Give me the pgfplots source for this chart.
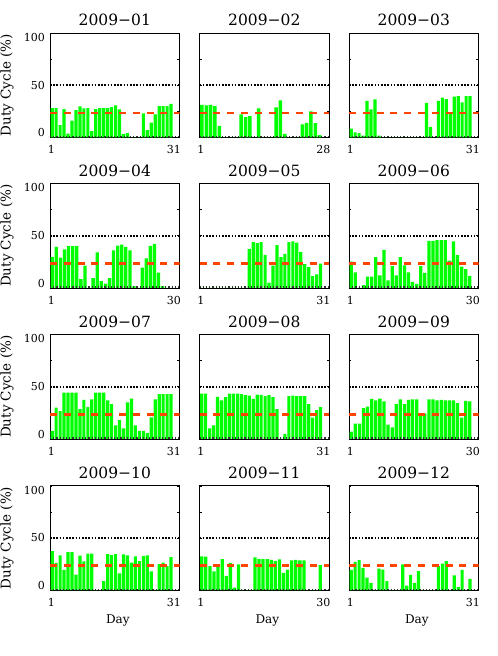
\documentclass[border=0pt]{standalone}
\usepackage{pgfplots}
\pgfplotsset{compat=1.18}
\usepackage{pgfplotstable}
\usepackage{fontspec}
\setmainfont{DejaVu Serif}

\definecolor{bargreen}{RGB}{0,255,0}
\definecolor{meanred}{RGB}{255,69,0}

% daily duty cycle (%), one value per day
\pgfplotstableread[row sep=\\]{dc\\28\\28\\11.6\\27\\3.5\\16\\26\\29.6\\27.7\\28\\6\\27\\28\\28\\28\\29\\30.5\\26.7\\3.2\\4\\0\\0\\0\\23\\7\\14\\22\\30\\30\\30\\32\\}\janD
\pgfplotstableread[row sep=\\]{dc\\31.2\\30.5\\31.2\\30\\11\\0\\0\\0\\0\\22\\19.3\\20.3\\0\\27.7\\0\\0\\0\\28.6\\35.4\\3.2\\0\\0\\0\\12.5\\13.8\\24.8\\13.5\\2\\}\febD
\pgfplotstableread[row sep=\\]{dc\\8.4\\4.8\\3.9\\1.6\\35\\26.7\\36.3\\1.6\\0\\0\\0\\0\\0\\0\\0\\0\\0\\0\\0\\33\\10\\0\\35\\38\\36.7\\22.8\\39\\39.5\\33.4\\39.5\\39.5\\}\marD
\pgfplotstableread[row sep=\\]{dc\\29.7\\39.3\\29\\37\\40\\40\\40\\8.3\\21.4\\0\\9.3\\34\\6.4\\4.2\\9.3\\36\\40.6\\41.5\\39.3\\36\\1.6\\0\\19.5\\28.4\\40.3\\42.2\\14.7\\1.6\\0\\0\\}\aprD
\pgfplotstableread[row sep=\\]{dc\\0\\0\\0\\0\\0\\0\\0\\0\\0\\0\\0\\0\\37.4\\43.8\\43\\43.8\\31.6\\5\\21.4\\41\\29.4\\32.6\\44\\44.7\\43.5\\34.5\\22.7\\20\\11.2\\13\\23.3\\}\mayD
\pgfplotstableread[row sep=\\]{dc\\25.2\\15\\0\\2.6\\10.9\\10.9\\29.4\\12\\36.4\\7.3\\20.8\\12\\29.4\\21.7\\15\\5.8\\3.8\\20.8\\14.4\\45\\45\\45.7\\45.7\\45.7\\26.2\\44.7\\31.6\\20.4\\17.9\\11.5\\}\junD
\pgfplotstableread[row sep=\\]{dc\\7.6\\30\\26.7\\44.4\\44.4\\44.4\\44.4\\28.6\\37.5\\30.5\\38\\44.4\\44.4\\44.4\\37\\33.3\\13\\18\\10\\35\\38.7\\13\\7.6\\7.6\\5.7\\20.6\\37.8\\43\\43\\43\\43\\}\julD
\pgfplotstableread[row sep=\\]{dc\\43.5\\43.5\\10\\13\\40.3\\37\\40\\43.5\\43.5\\43.5\\43\\42\\41.6\\38.5\\42.5\\42.2\\41\\42\\40\\28.6\\0\\4.8\\41\\41.6\\41\\41\\41\\33.3\\20.3\\27.6\\30.5\\}\augD
\pgfplotstableread[row sep=\\]{dc\\7\\14.6\\14.6\\29.5\\31\\38.4\\37\\38.7\\36\\13.7\\11\\33.6\\38\\33.3\\37.5\\38\\38\\24.4\\24.4\\38\\37.8\\37\\37.5\\37\\37\\37\\34.3\\20.3\\36.5\\35.9\\}\sepD
\pgfplotstableread[row sep=\\]{dc\\37.3\\26\\33.2\\19.3\\36.4\\36.4\\14.9\\33\\27.5\\35\\35\\0\\0\\8.5\\34.5\\33.5\\34.5\\16\\34.2\\33.2\\26.3\\32.3\\27.8\\32.6\\33.2\\18\\0\\25\\26.3\\23\\31.6\\}\octD
\pgfplotstableread[row sep=\\]{dc\\32.3\\32\\23\\18\\22.5\\29.7\\13.6\\26\\2.5\\24.7\\0\\0\\0\\31.3\\30\\29.7\\29.7\\29\\28\\29.4\\16.5\\19.6\\28.5\\29\\28.5\\28.5\\0\\0\\0\\24\\}\novD
\pgfplotstableread[row sep=\\]{dc\\19.3\\27\\28.8\\21.2\\12\\7\\0\\20.5\\19.6\\8.5\\0\\0\\0\\24.7\\4.4\\14.5\\7\\18.3\\0\\0\\0\\0\\23\\25.3\\27.8\\0\\14.2\\2.8\\19.3\\0\\10.8\\}\decD

\pgfplotsset{
  dcpanel/.style={
    scale only axis, width=129.6pt, height=104.3pt, anchor=south west,
    xmin=0.45, ymin=0, ymax=100,
    xtick=\empty, ytick={0,25,50,75,100}, yticklabels={},
    tick align=inside, major tick length=2.3pt,
    every tick/.style={black, line width=0.6pt},
    axis line style={black, line width=0.7pt},
    clip mode=individual,
  }
}

\newcommand{\ticklab}{\fontsize{11}{13}\selectfont}
\newcommand{\lab}{\fontsize{13.5}{15}\selectfont}

% #1 left, #2 bottom, #3 days, #4 title, #5 table, #6 y labels (1/0), #7 x label (1/0)
\newcommand{\panel}[7]{%
  \pgfmathsetmacro{\xr}{#3+2.15}
  \begin{axis}[dcpanel, at={(#1pt,-#2pt)}, xmax=\xr]
    \addplot[ybar, bar width=0.8, bar shift=0pt, fill=bargreen, draw=none]
      table[x expr=\coordindex+1, y=dc] {#5};
    \addplot[meanred, line width=2.3pt, dash pattern=on 7pt off 6.8pt]
      coordinates {(0.45,23.5) (\xr,23.5)};
    \addplot[black, line width=1.7pt, dash pattern=on 1.6pt off 1.6pt]
      coordinates {(0.45,50) (\xr,50)};
    \addplot[black!80, line width=1.2pt, dash pattern=on 1.2pt off 2pt]
      coordinates {(0.45,0.8) (\xr,0.8)};
    \node[yshift=7.3pt, anchor=base, inner sep=0pt, font=\fontsize{15.5}{17}\selectfont]
      at (rel axis cs:0.5,1) {#4};
    \node[xshift=1.3pt, yshift=-8pt, anchor=north, inner sep=0pt, font=\ticklab]
      at (rel axis cs:0,0) {1};
    \node[xshift=1.5pt, yshift=-8pt, anchor=north east, inner sep=0pt, font=\ticklab]
      at (rel axis cs:1,0) {#3};
    \ifnum#6=1
      \node[xshift=-5pt, anchor=north east, inner sep=0pt, font=\ticklab]
        at (rel axis cs:0,1) {100};
      \node[xshift=-5pt, anchor=east, inner sep=0pt, font=\ticklab]
        at (rel axis cs:0,0.5) {50};
      \node[xshift=-5pt, anchor=south east, inner sep=0pt, font=\ticklab]
        at (rel axis cs:0,0) {0};
      \node[xshift=-43pt, rotate=90, anchor=center, inner sep=0pt, font=\lab]
        at (rel axis cs:0,0.5) {Duty Cycle (\%)};
    \fi
    \ifnum#7=1
      \node[xshift=3pt, yshift=-24pt, anchor=north, inner sep=0pt, font=\fontsize{12}{14}\selectfont]
        at (rel axis cs:0.5,0) {Day};
    \fi
  \end{axis}}

\begin{document}
\begin{tikzpicture}
\useasboundingbox (0pt,0pt) rectangle (498pt,-656pt);
\panel{50}{137.3}{31}{2009−01}{\janD}{1}{0}
\panel{199.5}{137.3}{28}{2009−02}{\febD}{0}{0}
\panel{349}{137.3}{31}{2009−03}{\marD}{0}{0}
\panel{50}{287.9}{30}{2009−04}{\aprD}{1}{0}
\panel{199.5}{287.9}{31}{2009−05}{\mayD}{0}{0}
\panel{349}{287.9}{30}{2009−06}{\junD}{0}{0}
\panel{50}{438.9}{31}{2009−07}{\julD}{1}{0}
\panel{199.5}{438.9}{31}{2009−08}{\augD}{0}{0}
\panel{349}{438.9}{30}{2009−09}{\sepD}{0}{0}
\panel{50}{590.1}{31}{2009−10}{\octD}{1}{1}
\panel{199.5}{590.1}{30}{2009−11}{\novD}{0}{1}
\panel{349}{590.1}{31}{2009−12}{\decD}{0}{1}
\end{tikzpicture}
\end{document}
